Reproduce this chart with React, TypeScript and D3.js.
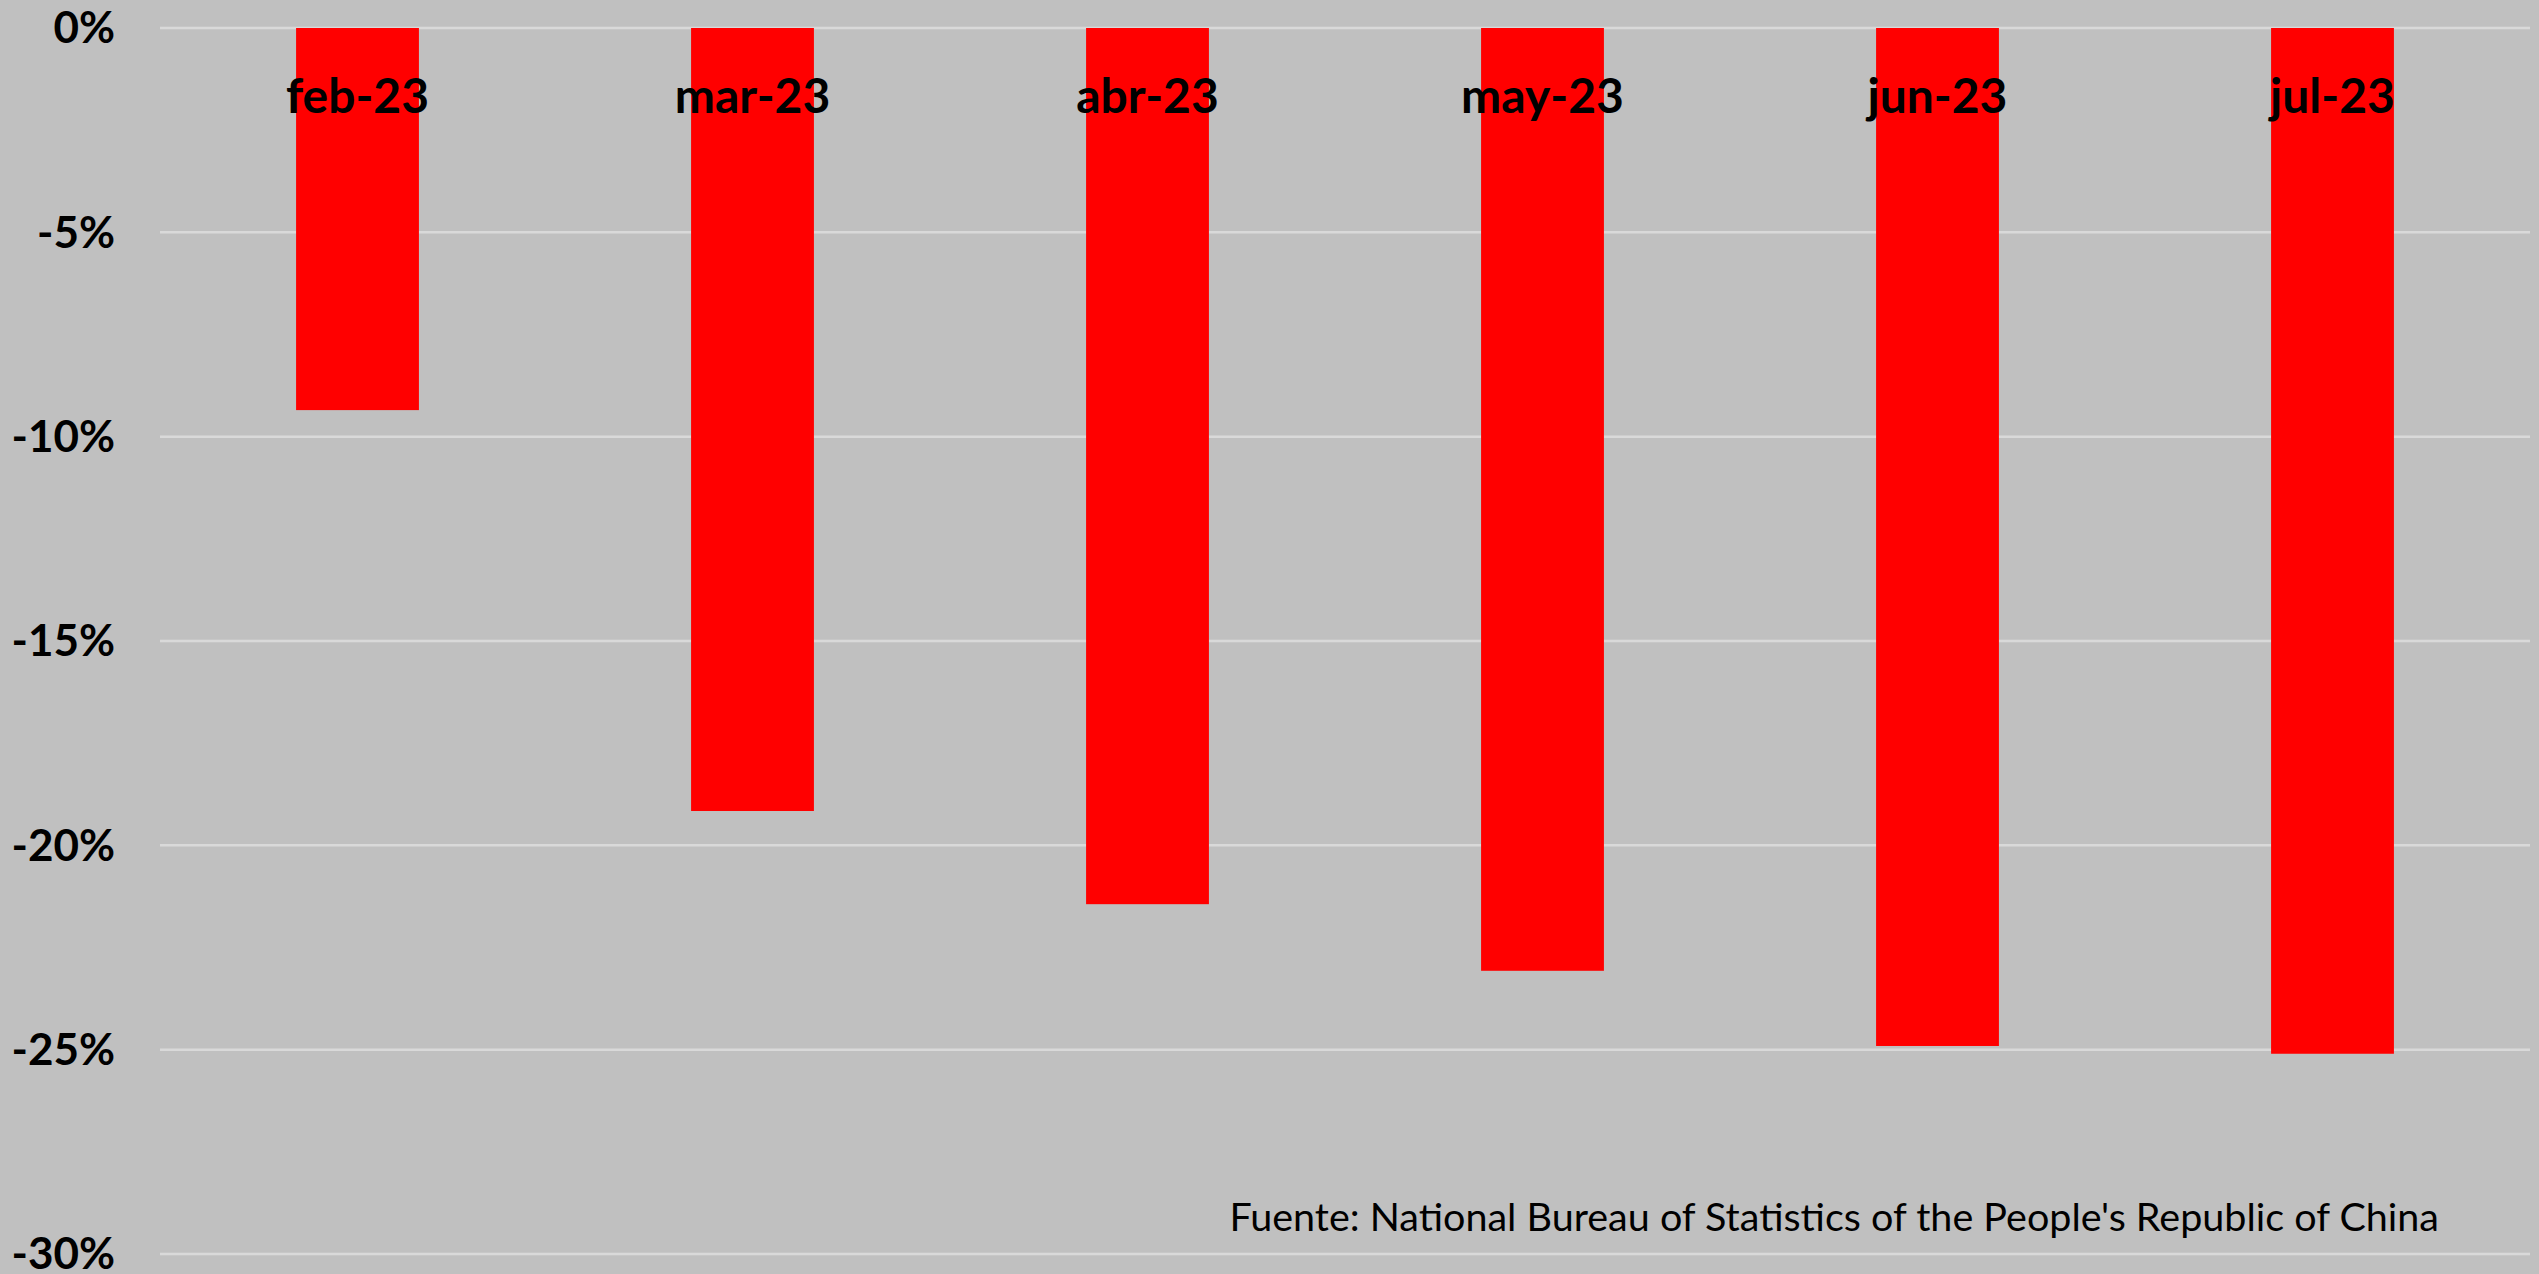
import { useRef, useEffect } from 'react';
import * as d3 from 'd3';

const months = ['feb-23', 'mar-23', 'abr-23', 'may-23', 'jun-23', 'jul-23'];
const values = [-9.35, -19.16, -21.44, -23.07, -24.91, -25.1];
const yTicks = [0, -5, -10, -15, -20, -25, -30];
const source = "Fuente: National Bureau of Statistics of the People's Republic of China";

const W = 2539;
const H = 1274;
const MARGIN = { top: 28, right: 9, bottom: 20, left: 160 };
const BAR_RATIO = 0.311;

export default function App() {
  const svgRef = useRef<SVGSVGElement>(null);

  useEffect(() => {
    document.body.style.margin = '0';
    const svg = svgRef.current;
    if (!svg) return;

    const innerW = W - MARGIN.left - MARGIN.right;
    const innerH = H - MARGIN.top - MARGIN.bottom;

    const root = d3.select(svg);
    root.selectAll('*').remove();

    root.append('rect').attr('width', W).attr('height', H).attr('fill', '#c0c0c0');

    const g = root.append('g').attr('transform', `translate(${MARGIN.left},${MARGIN.top})`);

    const x = d3.scaleBand<string>().domain(months).range([0, innerW]).padding(0);
    const y = d3.scaleLinear().domain([0, -30]).range([0, innerH]);

    // Grid
    g.selectAll('line.grid').data(yTicks).join('line').attr('class', 'grid')
      .attr('x1', 0).attr('x2', innerW)
      .attr('y1', d => y(d)).attr('y2', d => y(d))
      .attr('stroke', '#d9d9d9').attr('stroke-width', 2.5);

    // Y labels
    g.selectAll('text.ytick').data(yTicks).join('text').attr('class', 'ytick')
      .attr('x', -45).attr('y', d => y(d)).attr('dy', '0.35em')
      .attr('text-anchor', 'end')
      .attr('font-family', 'Lato, "Open Sans", sans-serif').attr('font-weight', 700)
      .attr('font-size', '44px').attr('fill', '#000')
      .text(d => `${d}%`);

    // Bars
    const bw = x.bandwidth() * BAR_RATIO;
    g.selectAll('rect.bar').data(months).join('rect').attr('class', 'bar')
      .attr('x', (d) => x(d)! + (x.bandwidth() - bw) / 2)
      .attr('y', y(0))
      .attr('width', bw)
      .attr('height', (_, i) => y(values[i]) - y(0))
      .attr('fill', '#ff0000');

    // Category labels
    g.selectAll('text.cat').data(months).join('text').attr('class', 'cat')
      .attr('x', d => x(d)! + x.bandwidth() / 2).attr('y', 85)
      .attr('text-anchor', 'middle')
      .attr('font-family', 'Lato, "Open Sans", sans-serif').attr('font-weight', 700)
      .attr('font-size', '48px').attr('fill', '#000')
      .text(d => d);

    // Source
    root.append('text').attr('x', 2439).attr('y', 1231).attr('text-anchor', 'end')
      .attr('font-family', 'Lato, "Open Sans", sans-serif').attr('font-size', '39.5px').attr('fill', '#000')
      .text(source);
  }, []);

  return (
    <div style={{ position: 'absolute', top: 0, left: 0 }}>
      <svg ref={svgRef} width={W} height={H} style={{ display: 'block' }} />
    </div>
  );
}
